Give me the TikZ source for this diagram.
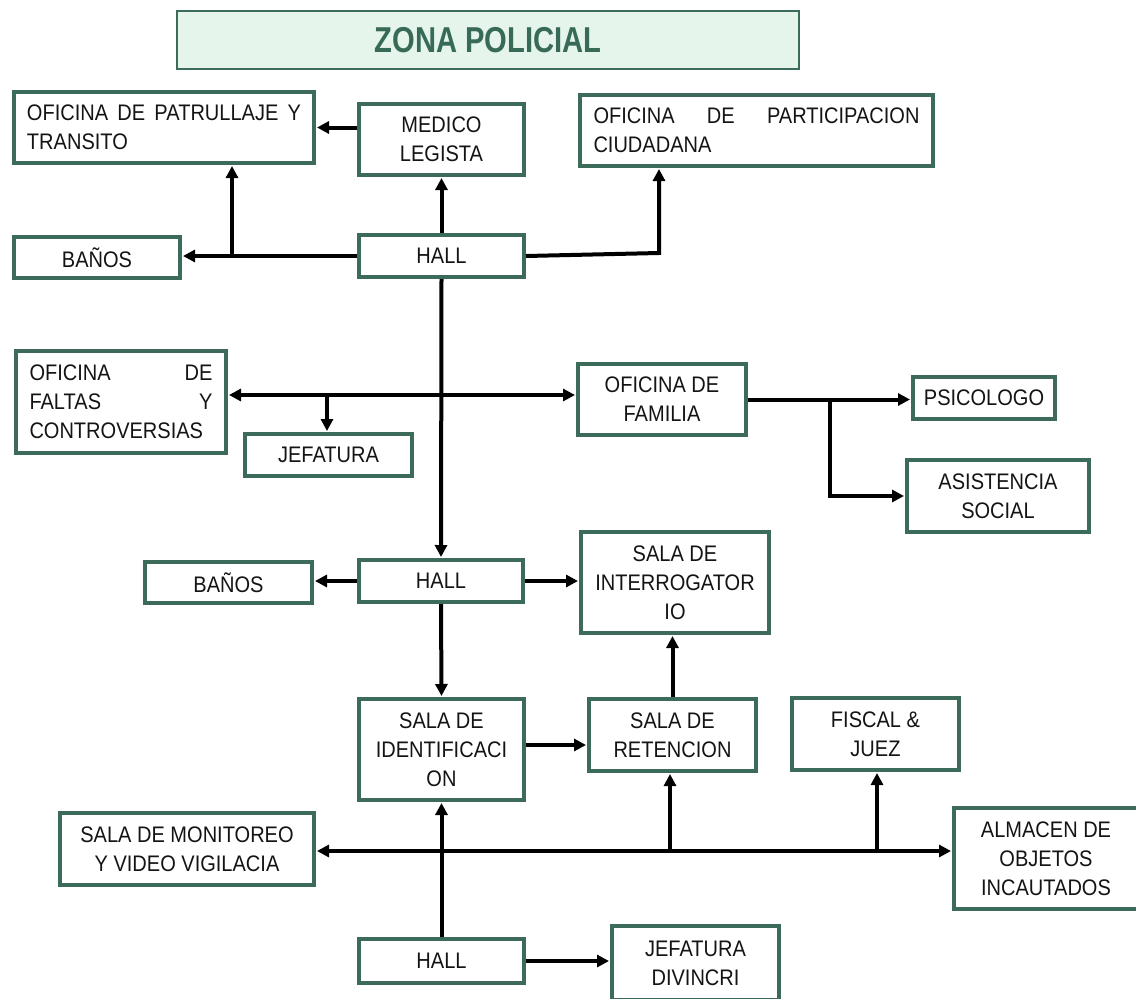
\documentclass[tikz,border=0pt]{standalone}
\usepackage{fontspec}
\setmainfont{Liberation Sans}[FakeStretch=0.89]
\newfontfamily\titlefont{Liberation Sans}[FakeStretch=0.81]
\usetikzlibrary{arrows.meta}
\definecolor{boxgreen}{HTML}{3C6B5A}
\definecolor{titlefill}{HTML}{E6F5EC}
\definecolor{titletext}{HTML}{376A57}
\begin{document}
\begin{tikzpicture}[x=1pt,y=-1pt,
  room/.style={draw=boxgreen, line width=4pt, fill=white, rectangle, inner sep=0pt,
    font=\fontsize{22.5}{29}\selectfont, text=black!92, align=center},
  jroom/.style={room, align=left},
  conn/.style={line width=4pt, draw=black},
  arr/.style={conn, -{Triangle[length=12pt,width=12pt]}, shorten >=1pt},
  arrb/.style={conn, {Triangle[length=12pt,width=12pt]}-{Triangle[length=12pt,width=12pt]}, shorten >=1pt, shorten <=1pt}
]
\useasboundingbox (0,0) rectangle (1136,999);
\fill[white] (0,0) rectangle (1136,999);

% title
\node[draw=boxgreen, line width=2pt, fill=titlefill, minimum width=622pt, minimum height=58pt, inner sep=0pt] (title) at (488,40) {};
\node[text=titletext, font=\titlefont\bfseries\fontsize{36}{40}\selectfont] (titletxt) at (488,40) {ZONA POLICIAL};

% rooms
\node[jroom, minimum width=300pt, minimum height=71pt, text width=274pt] (patr) at (164,127.5)
  {OFICINA\hfill DE\hfill PATRULLAJE\hfill Y\\TRANSITO};
\node[room, minimum width=165pt, minimum height=71pt] (med) at (441.5,139.5) {MEDICO\\LEGISTA};
\node[jroom, minimum width=353pt, minimum height=71pt, text width=326pt] (part) at (756.5,130.5)
  {OFICINA\hfill DE\hfill PARTICIPACION\\CIUDADANA};
\node[room, minimum width=166pt, minimum height=41pt] (ban1) at (97,257.5) {BAÑOS};
\node[room, minimum width=165pt, minimum height=42pt] (hall1) at (441.5,256) {HALL};

\node[jroom, minimum width=210pt, minimum height=102pt, text width=183pt] (falt) at (121,402)
  {OFICINA\hfill DE\\FALTAS\hfill Y\\CONTROVERSIAS};
\node[room, minimum width=167pt, minimum height=42pt] (jef) at (328.5,455) {JEFATURA};
\node[room, minimum width=168pt, minimum height=71pt] (fam) at (662,399.5) {OFICINA DE\\FAMILIA};
\node[room, minimum width=142pt, minimum height=42pt] (psi) at (984,398) {PSICOLOGO};
\node[room, minimum width=182pt, minimum height=72pt] (asis) at (998,496) {ASISTENCIA\\SOCIAL};

\node[room, minimum width=167pt, minimum height=41pt] (ban2) at (228.5,582.5) {BAÑOS};
\node[room, minimum width=164pt, minimum height=42pt] (hall2) at (441,581) {HALL};
\node[room, minimum width=188pt, minimum height=101pt] (inter) at (675,582.5) {SALA DE\\INTERROGATOR\\IO};

\node[room, minimum width=165pt, minimum height=101pt] (ident) at (441.5,749.5) {SALA DE\\IDENTIFICACI\\ON};
\node[room, minimum width=167pt, minimum height=72pt] (ret) at (672.5,735) {SALA DE\\RETENCION};
\node[room, minimum width=167pt, minimum height=72pt] (fisc) at (875.5,734) {FISCAL \&\\JUEZ};

\node[room, minimum width=254pt, minimum height=72pt] (mon) at (187,849) {SALA DE MONITOREO\\Y VIDEO VIGILACIA};
\node[room, minimum width=184pt, minimum height=101pt] (alm) at (1046,858.5) {ALMACEN DE\\OBJETOS\\INCAUTADOS};
\node[room, minimum width=165pt, minimum height=44pt] (hall3) at (441.5,961) {HALL};
\node[room, minimum width=167pt, minimum height=74pt] (div) at (695.5,963) {JEFATURA\\DIVINCRI};

% junction coordinates
\coordinate (j1) at (232,256);
\coordinate (k1) at (659,253);
\coordinate (j2) at (327,395);
\coordinate (j3) at (830,399.5);
\coordinate (r1) at (560,745);
\coordinate (h) at (600,851);
\coordinate (j4) at (670,851);
\coordinate (j5) at (877,851);

% connectors (top block)
\draw[arr] (med.west|-patr.east) -- (patr.east);
\draw[arr] (hall1.north) -- (med.south);
\draw[arr] (hall1.west) -- (hall1.west-|ban1.east);
\draw[arr] (j1) -- (j1|-patr.south);
\draw[arr] (hall1.east) -- (k1) -- (k1|-part.south);
\draw[arr] (hall1.south) -- (hall2.north);

% middle block
\draw[arrb] (falt.east|-j2) -- (fam.west|-j2);
\draw[arr] (j2) -- (j2|-jef.north);
\draw[arr] (fam.east) -- (fam.east-|psi.west);
\draw[arr] (j3) -- (j3|-asis.west) -- (asis.west);

% second hall
\draw[arr] (hall2.west) -- (hall2.west-|ban2.east);
\draw[arr] (hall2.east) -- (hall2.east-|inter.west);
\draw[arr] (hall2.south) -- (ident.north);
\draw[arr] (ident.east|-r1) -- (ret.west|-r1);
\draw[arr] (ret.north) -- (ret.north|-inter.south);

% bottom block
\draw[arrb] (mon.east|-h) -- (alm.west|-h);
\draw[arr] (j4) -- (j4|-ret.south);
\draw[arr] (j5) -- (j5|-fisc.south);
\draw[arr] (hall3.north) -- (ident.south);
\draw[arr] (hall3.east) -- (hall3.east-|div.west);
\end{tikzpicture}
\end{document}
